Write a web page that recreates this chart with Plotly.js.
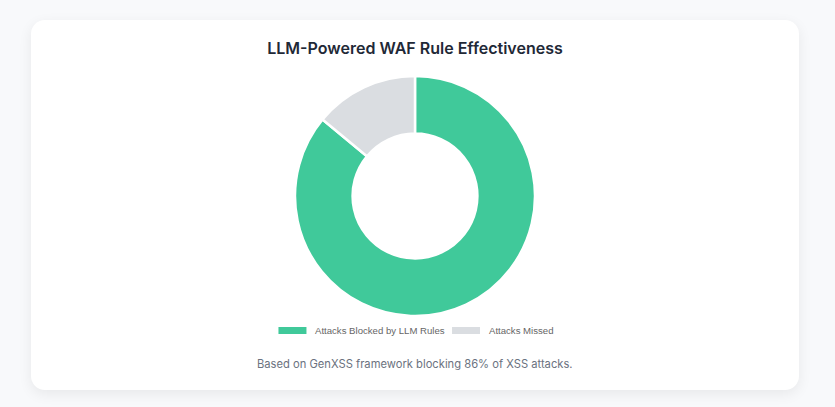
<!DOCTYPE html>
<html>
<head>
<meta charset="utf-8">
<script src="https://cdn.plot.ly/plotly-3.0.1.min.js"></script>
<style>
  html, body { margin: 0; padding: 0; background: #f8f9fb; width: 835px; height: 407px; overflow: hidden; }
  #card { position: absolute; left: 31px; top: 20px; width: 768px; height: 370px; background: #ffffff;
          border-radius: 14px; box-shadow: 0 4px 14px rgba(0,0,0,0.07); }
  #chart { position: absolute; left: 0; top: 0; width: 768px; height: 370px; }
</style>
</head>
<body>
<div id="card"><div id="chart"></div></div>
<script>
const chartTitle = "LLM-Powered WAF Rule Effectiveness";
const labels = ["Attacks Blocked by LLM Rules", "Attacks Missed"];
const values = [86, 14];
const colors = ["#40c99a", "#dadde1"];
const footnote = "Based on GenXSS framework blocking 86% of XSS attacks.";

const W = 768, H = 370;

const trace = {
  type: "pie",
  labels: labels,
  values: values,
  hole: 0.52,
  sort: false,
  direction: "clockwise",
  rotation: 0,
  textinfo: "none",
  hoverinfo: "label+value",
  marker: { colors: colors, line: { color: "#ffffff", width: 2.5 } },
  domain: { x: [0, 1], y: [(H - 296) / H, (H - 56) / H] },
  showlegend: false
};

// custom legend (wide colour boxes), built from labels/colors
const legendFont = { family: "Liberation Sans, Arial, sans-serif", size: 9.6, color: "#666666" };
const ctx = document.createElement("canvas").getContext("2d");
ctx.font = legendFont.size + "px " + legendFont.family;
const shapes = [];
const annotations = [];
const boxW = 28, boxH = 7, gap = 7, itemGap = 9;
const widths = labels.map(l => boxW + gap + ctx.measureText(l).width);
const total = widths.reduce((a, b) => a + b, 0) + itemGap * (labels.length - 1);
let x = W / 2 - total / 2;
const ly = 310.5; // card px from top (center of legend row)
labels.forEach((l, i) => {
  shapes.push({ type: "rect", xref: "paper", yref: "paper",
    x0: x / W, x1: (x + boxW) / W, y0: (H - ly - boxH / 2) / H, y1: (H - ly + boxH / 2) / H,
    fillcolor: colors[i], line: { width: 0 } });
  annotations.push({ xref: "paper", yref: "paper", x: (x + boxW + gap) / W, y: (H - ly) / H,
    xanchor: "left", yanchor: "middle", showarrow: false, text: l, font: legendFont });
  x += widths[i] + itemGap;
});

annotations.push({ xref: "paper", yref: "paper", x: 0.5, y: (H - 344) / H, xanchor: "center", yanchor: "middle",
  showarrow: false, text: footnote, font: { family: "Inter, sans-serif", size: 11.2, color: "#6b7280" } });

const layout = {
  width: W, height: H,
  margin: { l: 0, r: 0, t: 0, b: 0 },
  paper_bgcolor: "rgba(0,0,0,0)",
  plot_bgcolor: "rgba(0,0,0,0)",
  title: { text: chartTitle, x: 0.5, xanchor: "center", y: (H - 28) / H, yanchor: "middle",
           font: { family: "Inter, sans-serif", size: 16, weight: 600, color: "#1f2937" } },
  shapes: shapes,
  annotations: annotations,
  showlegend: false
};

Plotly.newPlot("chart", [trace], layout, { displayModeBar: false, staticPlot: true });
</script>
</body>
</html>
